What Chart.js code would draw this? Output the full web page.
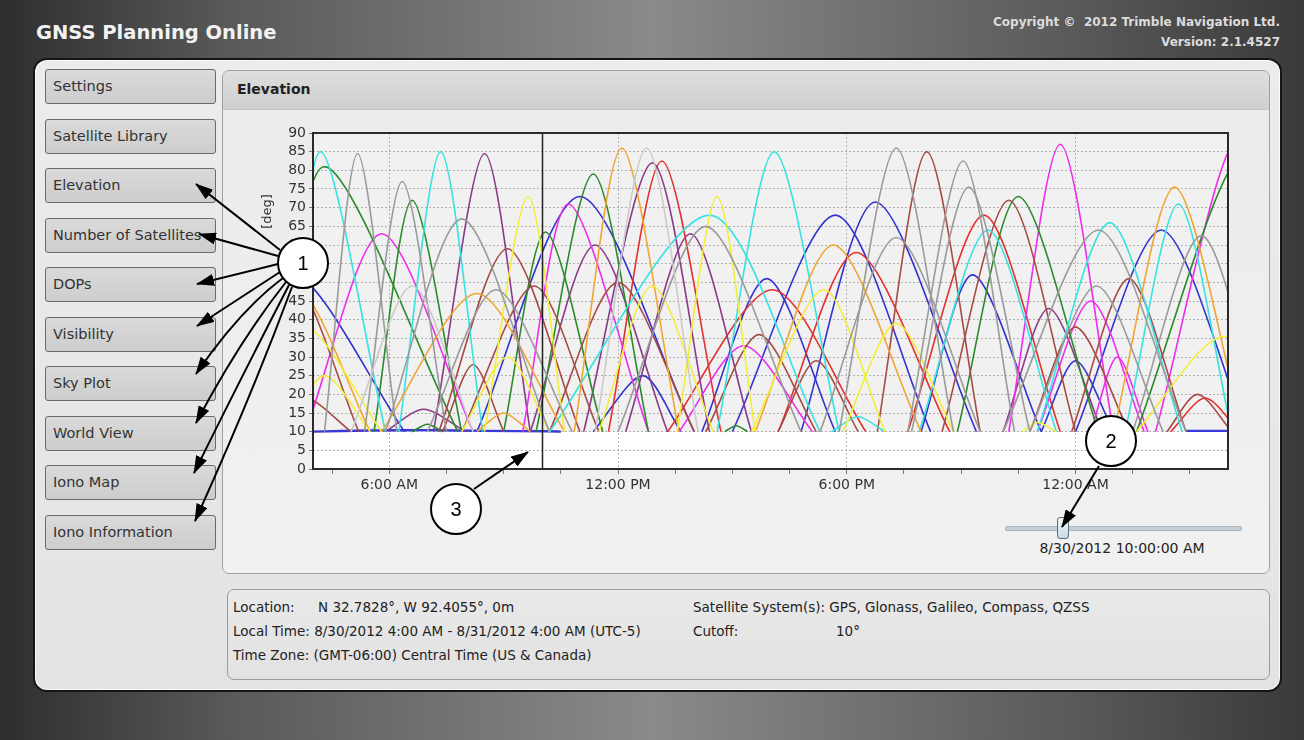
<!DOCTYPE html>
<html>
<head>
<meta charset="utf-8">
<title>GNSS Planning Online - Elevation</title>
<script src="https://cdn.jsdelivr.net/npm/chart.js@4.4.1/dist/chart.umd.min.js"></script>
<style>
html, body { margin: 0; padding: 0; }
body {
    width: 1304px; height: 740px; position: relative; overflow: hidden;
    font-family: "DejaVu Sans", Verdana, sans-serif;
    background: linear-gradient(90deg, #2e2e2e 0%, #5a5a5a 18%, #8a8a8a 50%, #5a5a5a 82%, #3a3a3a 100%);
}
.abs { position: absolute; }
#title { left: 36px; top: 21px; font-size: 19.5px; font-weight: bold; color: #f2f2f2; line-height: 24px; }
.copy { right: 24px; font-size: 12px; font-weight: bold; color: #dcdcdc; line-height: 16px; white-space: nowrap; }
#main {
    left: 33px; top: 58px; width: 1245px; height: 630px;
    border: 2px solid #151515; border-radius: 14px;
    background: linear-gradient(#ececec, #e3e3e3);
    box-shadow: inset 0 0 0 1px #fafafa;
}
.btn {
    left: 45px; width: 162px; height: 33px; line-height: 33px;
    border: 1px solid #6a6a6a; border-radius: 3px;
    background: linear-gradient(#dadada, #cdcdcd);
    color: #333; font-size: 14.5px; padding-left: 7px; box-sizing: content-box;
    white-space: nowrap; overflow: hidden;
}
#elevPanel {
    left: 222px; top: 70px; width: 1046px; height: 502px;
    border: 1px solid #a0a0a0; border-radius: 7px;
    background: linear-gradient(#ebebeb, #f1f1f1);
    overflow: hidden;
}
#elevHead {
    left: 0; top: 0; width: 100%; height: 38px;
    background: linear-gradient(#dedede, #cfcfcf);
    border-bottom: 1px solid #c4c4c4;
}
#elevHead span { position: absolute; left: 14px; top: 10px; font-weight: bold; font-size: 14px; color: #222; }
#deg { left: 246px; top: 204px; width: 40px; text-align: center; font-size: 13px; color: #333; transform: rotate(-90deg); }
#track { left: 1005px; top: 526px; width: 235px; height: 3px; background: #c6d0d6; border: 1px solid #aab4bb; border-radius: 2px; }
#knob { left: 1057px; top: 517px; width: 10px; height: 20px; border: 1px solid #5a6f7e; border-radius: 3px; background: linear-gradient(#f2f7fa, #c9d8e2); }
#sliderText { left: 1022px; top: 540px; width: 200px; text-align: center; font-size: 14px; color: #222; }
#infoPanel {
    left: 227px; top: 589px; width: 1041px; height: 89px;
    border: 1px solid #9c9c9c; border-radius: 7px;
    background: linear-gradient(#e9e9e9, #e2e2e2);
}
.info { font-size: 13.5px; color: #222; white-space: nowrap; }
#chartBox { left: 228px; top: 120px; width: 1040px; height: 385px; }
#marks { left: 0; top: 0; }
</style>
</head>
<body>

<div id="title" class="abs">GNSS Planning Online</div>
<div class="abs copy" style="top:14px">Copyright &copy;&nbsp; 2012 Trimble Navigation Ltd.</div>
<div class="abs copy" style="top:34px">Version: 2.1.4527</div>

<div id="main" class="abs"></div>

<div class="abs btn" style="top:69px">Settings</div>
<div class="abs btn" style="top:119px">Satellite Library</div>
<div class="abs btn" style="top:168px">Elevation</div>
<div class="abs btn" style="top:218px">Number of Satellites</div>
<div class="abs btn" style="top:267px">DOPs</div>
<div class="abs btn" style="top:317px">Visibility</div>
<div class="abs btn" style="top:366px">Sky Plot</div>
<div class="abs btn" style="top:416px">World View</div>
<div class="abs btn" style="top:465px">Iono Map</div>
<div class="abs btn" style="top:515px">Iono Information</div>

<div id="elevPanel" class="abs">
    <div id="elevHead" class="abs"><span>Elevation</span></div>
</div>

<div id="chartBox" class="abs"><canvas id="elevation-chart" width="1040" height="385"></canvas></div>
<div id="deg" class="abs">[deg]</div>

<div id="track" class="abs"></div>
<div id="knob" class="abs"></div>
<div id="sliderText" class="abs">8/30/2012 10:00:00 AM</div>

<div id="infoPanel" class="abs"></div>
<div class="abs info" style="left:233px; top:599px">Location:</div>
<div class="abs info" style="left:318px; top:599px">N 32.7828&deg;, W 92.4055&deg;, 0m</div>
<div class="abs info" style="left:233px; top:623px">Local Time: 8/30/2012 4:00 AM - 8/31/2012 4:00 AM (UTC-5)</div>
<div class="abs info" style="left:233px; top:647px">Time Zone: (GMT-06:00) Central Time (US &amp; Canada)</div>
<div class="abs info" style="left:693px; top:599px">Satellite System(s): GPS, Glonass, Galileo, Compass, QZSS</div>
<div class="abs info" style="left:693px; top:623px">Cutoff:</div>
<div class="abs info" style="left:836px; top:623px">10&deg;</div>

<!-- numbered callouts drawn over the screenshot -->
<svg id="marks" class="abs" width="1304" height="740">
    <defs>
        <marker id="ah" markerUnits="userSpaceOnUse" markerWidth="18" markerHeight="12" refX="17" refY="6" orient="auto">
            <path d="M0,0 L18,6 L0,12 z" fill="#000"/>
        </marker>
    </defs>
    <g stroke="#000" stroke-width="2" fill="none" marker-end="url(#ah)">
        <line x1="280" y1="250" x2="196" y2="184"/>
        <line x1="278" y1="256" x2="199" y2="234"/>
        <line x1="278" y1="264" x2="197" y2="284"/>
        <line x1="280" y1="272" x2="197" y2="326"/>
        <path d="M283,278 Q240,310 196,374"/>
        <path d="M286,282 Q240,340 196,423"/>
        <path d="M289,285 Q245,370 194,473"/>
        <path d="M292,287 Q250,400 195,521"/>
        <line x1="1099" y1="466" x2="1062" y2="527"/>
        <line x1="474" y1="489" x2="528" y2="452"/>
    </g>
    <g stroke="#000" stroke-width="2" fill="#fff">
        <circle cx="303" cy="263" r="25"/>
        <circle cx="1111" cy="441" r="25"/>
        <circle cx="456" cy="509" r="25"/>
    </g>
    <g font-family="Liberation Sans, Arial, sans-serif" font-size="20" text-anchor="middle" fill="#000">
        <text x="303" y="270">1</text>
        <text x="1111" y="448">2</text>
        <text x="456" y="516">3</text>
    </g>
</svg>

<script>
// Satellite passes, one list per plot colour.
// Each pass: [rise hour, peak hour, peak elevation (deg), set hour]
// Hours are counted from midnight 8/30/2012, so 24 = 12:00 AM on 8/31.
const cyanPasses = [
    [3.2, 4.2, 85, 5.9],
    [6.25, 7.35, 85, 8.45],
    [10.2, 14.4, 68, 17.3],
    [14.6, 16.1, 85, 17.8],
    [17.6, 18.3, 14, 19.0],
    [19.9, 21.7, 64, 23.5],
    [23.0, 24.9, 66, 26.8],
    [25.3, 26.7, 71, 28.1]
];
const greenPasses = [
    [3.0, 4.3, 81, 7.8],
    [5.6, 6.6, 72, 7.9],
    [6.6, 7.0, 12, 7.4],
    [9.0, 10.1, 63.5, 11.6],
    [9.85, 11.35, 79, 12.8],
    [14.8, 15.1, 11.6, 15.4],
    [20.9, 22.5, 73, 24.6],
    [25.6, 28.4, 84, 30.0]
];
const grayPasses = [
    [4.3, 5.17, 84.5, 6.2],
    [5.35, 6.34, 77, 7.5],
    [5.9, 7.9, 67, 10.2],
    [7.0, 8.8, 48, 10.8],
    [12.0, 14.3, 65, 16.8],
    [17.8, 19.3, 86, 20.8],
    [17.3, 19.3, 62, 21.5],
    [19.6, 21.05, 82.5, 22.4],
    [19.7, 21.2, 75.5, 22.8],
    [22.1, 24.6, 64, 26.9],
    [22.8, 24.55, 49, 26.3],
    [25.5, 27.3, 62.5, 29.0]
];
const lightGrayPasses = [
    [5.0, 6.6, 49, 8.2],
    [11.4, 12.75, 86, 14.1]
];
const magentaPasses = [
    [3.8, 5.8, 63, 8.2],
    [9.5, 10.7, 71, 12.8],
    [13.6, 15.3, 33, 17.1],
    [22.25, 23.6, 87, 25.0],
    [23.0, 24.4, 45, 25.8],
    [24.4, 25.1, 30, 25.9],
    [26.1, 28.3, 89, 30.0]
];
const purplePasses = [
    [5.9, 6.9, 16, 8.0],
    [7.16, 8.5, 84.5, 9.7],
    [9.7, 11.4, 60, 13.3],
    [11.1, 12.9, 82, 14.4],
    [12.2, 13.9, 63, 15.5],
    [22.1, 23.3, 43, 24.7]
];
const bluePasses = [
    [2.0, 3.5, 52, 6.4],
    [8.3, 11.0, 73, 14.0],
    [11.35, 12.65, 25, 13.65],
    [14.2, 15.9, 51, 17.7],
    [15.0, 17.7, 68, 20.2],
    [16.8, 18.75, 71.5, 21.4],
    [19.95, 21.3, 52, 23.1],
    [23.1, 24.0, 29, 25.0],
    [24.0, 26.25, 64, 28.5]
];
const yellowPasses = [
    [2.5, 3.8, 38, 5.8],
    [3.3, 4.3, 25, 5.5],
    [7.9, 9.1, 30, 10.2],
    [8.5, 9.64, 73, 10.6],
    [11.5, 12.9, 49, 14.5],
    [13.55, 14.6, 73, 15.6],
    [15.5, 17.4, 48, 19.0],
    [17.9, 19.3, 39, 20.8],
    [22.6, 23.0, 12.5, 23.5],
    [25.6, 27.9, 35.5, 30.0]
];
const orangePasses = [
    [2.2, 3.6, 48, 5.5],
    [5.8, 8.3, 47, 10.6],
    [8.3, 9.0, 15, 9.7],
    [10.85, 12.1, 86, 13.6],
    [15.6, 17.65, 60, 19.95],
    [25.0, 26.6, 75.5, 28.4]
];
const brownPasses = [
    [2.2, 3.5, 50, 5.2],
    [3.0, 3.8, 19, 5.0],
    [7.4, 8.2, 28, 9.0],
    [7.3, 9.1, 59, 11.0],
    [7.9, 9.8, 49, 11.5],
    [10.2, 12.0, 50, 14.0],
    [14.3, 15.7, 36, 17.2],
    [16.2, 17.2, 29, 18.3],
    [18.8, 20.1, 85, 21.5],
    [20.5, 22.25, 72, 24.0],
    [22.8, 24.0, 38, 25.4],
    [23.9, 25.4, 51, 26.9],
    [26.4, 27.2, 20, 28.1]
];
const redPasses = [
    [11.75, 13.15, 82.5, 14.7],
    [13.3, 16.05, 48, 18.5],
    [16.2, 18.25, 58, 20.7],
    [19.6, 21.6, 68, 23.6],
    [26.5, 27.4, 19, 28.3]
];

// the satellite that sits on the cutoff line
const lowBlueHours = [4, 5.5, 7, 8.5, 10.2, 10.5];
const lowBlueElev = [10, 10.3, 10.4, 10.2, 10.1, 10.0];
const lowBlueLateHours = [26.9, 28];
const lowBlueLateElev = [10.2, 10.2];

// axis
const cutoffElev = 10;
const cursorHour = 10;
const xTickHours = [4.5, 6, 7.5, 9, 10.5, 12, 13.5, 15, 16.5, 18, 19.5, 21, 22.5, 24, 25.5, 27];
const xLabelHours = [6, 12, 18, 24];
const xLabels = ["6:00 AM", "12:00 PM", "6:00 PM", "12:00 AM"];

// Build the datasets, one line per pass
const groups = [
    { passes: lightGrayPasses, color: "#cbcbcb" },
    { passes: grayPasses, color: "#9a9a9a" },
    { passes: yellowPasses, color: "#f2ee3a" },
    { passes: orangePasses, color: "#f0a632" },
    { passes: cyanPasses, color: "#36e2e2" },
    { passes: brownPasses, color: "#a64a46" },
    { passes: greenPasses, color: "#2b8a2b" },
    { passes: magentaPasses, color: "#ee2cee" },
    { passes: purplePasses, color: "#8a3a8a" },
    { passes: redPasses, color: "#e2302e" },
    { passes: bluePasses, color: "#3232d0" }
];

const datasets = [];
groups.forEach(g => {
    g.passes.forEach(p => {
        datasets.push({
            data: [
                { x: p[0], y: cutoffElev },
                { x: p[1], y: p[2] },
                { x: p[3], y: cutoffElev }
            ],
            borderColor: g.color,
            borderWidth: 1.6,
            tension: 0.28,
            pointRadius: 0,
            fill: false
        });
    });
});
datasets.push({
    data: lowBlueHours.map((h, i) => ({ x: h, y: lowBlueElev[i] })),
    borderColor: "#3a3ad8", borderWidth: 2.4, tension: 0.3, pointRadius: 0
});
datasets.push({
    data: lowBlueLateHours.map((h, i) => ({ x: h, y: lowBlueLateElev[i] })),
    borderColor: "#3a3ad8", borderWidth: 2.4, tension: 0, pointRadius: 0
});

// plot background: grey above the cutoff, white below it
const bandPlugin = {
    id: "band",
    beforeDraw(chart) {
        const { ctx, chartArea: a, scales } = chart;
        const yCut = scales.y.getPixelForValue(cutoffElev);
        ctx.save();
        ctx.fillStyle = "#f1f1f1";
        ctx.fillRect(a.left, a.top, a.right - a.left, yCut - a.top);
        ctx.fillStyle = "#ffffff";
        ctx.fillRect(a.left, yCut, a.right - a.left, a.bottom - yCut);
        ctx.restore();
    }
};

// frame and the time cursor
const framePlugin = {
    id: "frame",
    afterDraw(chart) {
        const { ctx, chartArea: a, scales } = chart;
        ctx.save();
        const xc = Math.round(scales.x.getPixelForValue(cursorHour)) + 0.5;
        ctx.strokeStyle = "#222";
        ctx.lineWidth = 1.5;
        ctx.beginPath();
        ctx.moveTo(xc, a.top);
        ctx.lineTo(xc, a.bottom);
        ctx.stroke();
        ctx.lineWidth = 2;
        ctx.strokeStyle = "#2a2a2a";
        ctx.strokeRect(a.left, a.top, a.right - a.left, a.bottom - a.top);
        ctx.restore();
    }
};

new Chart(document.getElementById("elevation-chart"), {
    type: "line",
    data: { datasets: datasets },
    plugins: [bandPlugin, framePlugin],
    options: {
        responsive: false,
        animation: false,
        devicePixelRatio: 1,
        layout: { padding: { top: 13, right: 40, bottom: 0, left: 0 }, autoPadding: false },
        plugins: { legend: { display: false }, tooltip: { enabled: false } },
        scales: {
            x: {
                type: "linear",
                min: 4,
                max: 28,
                afterBuildTicks: scale => { scale.ticks = xTickHours.map(v => ({ value: v })); },
                afterFit: scale => { scale.height = 36; },
                ticks: {
                    autoSkip: false,
                    maxRotation: 0,
                    padding: 3,
                    color: "#333",
                    font: { family: "DejaVu Sans", size: 14 },
                    callback: v => {
                        const i = xLabelHours.indexOf(v);
                        return i >= 0 ? xLabels[i] : "";
                    }
                },
                grid: {
                    color: c => xLabelHours.includes(c.tick && c.tick.value) ? "#b4b4b4" : "rgba(0,0,0,0)",
                    tickColor: "#777",
                    tickLength: 5,
                    tickBorderDash: []
                },
                border: { display: false, dash: [2, 2] }
            },
            y: {
                min: 0,
                max: 90,
                afterFit: scale => { scale.width = 85; },
                ticks: {
                    stepSize: 5,
                    autoSkip: false,
                    padding: 3,
                    color: "#333",
                    font: { family: "DejaVu Sans", size: 14 }
                },
                grid: {
                    color: "#b0b0b0",
                    tickColor: "#777",
                    tickLength: 4,
                    tickBorderDash: []
                },
                border: { display: false, dash: [2, 2] }
            }
        }
    }
});
</script>
</body>
</html>
